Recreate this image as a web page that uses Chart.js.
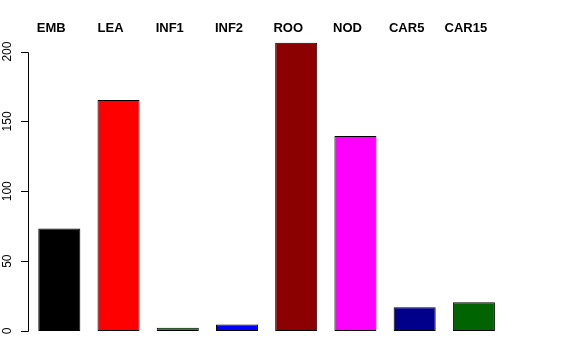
<!DOCTYPE html>
<html>
<head>
<meta charset="utf-8">
<script src="https://cdn.jsdelivr.net/npm/chart.js@4/dist/chart.umd.min.js"></script>
<style>
  html, body { margin: 0; padding: 0; background: #fff; }
  #wrap { width: 576px; height: 360px; }
</style>
</head>
<body>
<div id="wrap"><canvas id="tissue"></canvas></div>
<script>
const tissues = ["EMB", "LEA", "INF1", "INF2", "ROO", "NOD", "CAR5", "CAR15"];
const counts = [73.4, 165.4, 2.3, 4.7, 206.4, 139.6, 17.0, 20.5];
const barColors = ["#000000", "#ff0000", "#00a000", "#0000ff", "#8b0000", "#ff00ff", "#00008b", "#006400"];
const yTicks = [0, 50, 100, 150, 200];

// R-style axis: left line only between first and last tick, rotated labels, names on top
const rAxes = {
  id: "rAxes",
  afterDraw(chart) {
    const ctx = chart.ctx;
    const x = chart.scales.x;
    const y = chart.scales.y;
    const ax = 28.5;
    ctx.save();
    ctx.strokeStyle = "#000";
    ctx.lineWidth = 1;
    ctx.beginPath();
    ctx.moveTo(ax, Math.round(y.getPixelForValue(yTicks[0])) + 0.5);
    ctx.lineTo(ax, Math.round(y.getPixelForValue(yTicks[yTicks.length - 1])) + 0.5);
    yTicks.forEach(t => {
      const py = Math.round(y.getPixelForValue(t)) + 0.5;
      ctx.moveTo(ax, py);
      ctx.lineTo(21, py);
    });
    ctx.stroke();

    ctx.fillStyle = "#000";
    ctx.font = "12px 'Liberation Sans', Arial, sans-serif";
    ctx.textAlign = "center";
    ctx.textBaseline = "middle";
    yTicks.forEach(t => {
      ctx.save();
      ctx.translate(8, y.getPixelForValue(t));
      ctx.rotate(-Math.PI / 2);
      ctx.fillText(String(t), 0, 0);
      ctx.restore();
    });

    ctx.font = "bold 13px 'Liberation Sans', Arial, sans-serif";
    tissues.forEach((name, i) => {
      ctx.fillText(name, x.getPixelForValue(i) - 8, 28);
    });
    ctx.restore();
  }
};

new Chart(document.getElementById("tissue"), {
  type: "bar",
  data: {
    labels: tissues,
    datasets: [
      {
        data: counts,
        backgroundColor: barColors,
        borderColor: "#000000",
        borderWidth: 1,
        borderSkipped: false,
        barPercentage: 0.71,
        categoryPercentage: 1,
      },
    ],
  },
  options: {
    responsive: true,
    maintainAspectRatio: false,
    animation: false,
    layout: {
      padding: { left: 29.7, right: 72.5, top: 39, bottom: 29 },
    },
    plugins: {
      legend: { display: false },
      tooltip: { enabled: false },
    },
    scales: {
      x: {
        display: false,
        offset: true,
      },
      y: {
        display: false,
        min: 0,
        max: 209,
      },
    },
  },
  plugins: [rAxes],
});
</script>
</body>
</html>
